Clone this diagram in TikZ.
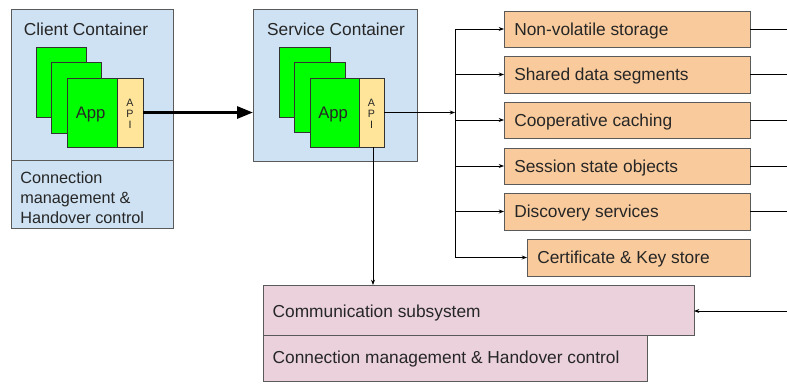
\documentclass[tikz,border=0pt]{standalone}
\usepackage{fontspec}
\setmainfont{Liberation Sans}
\usetikzlibrary{fit,arrows.meta}
\definecolor{contblue}{HTML}{CFE2F3}
\definecolor{appgreen}{HTML}{00FF00}
\definecolor{apiyellow}{HTML}{FFE599}
\definecolor{storeorange}{HTML}{F9CB9C}
\definecolor{commpink}{HTML}{EAD1DC}
\definecolor{edge}{HTML}{5A5A5A}
\tikzset{
  frame/.style={draw=edge, line width=0.75pt, inner sep=0pt, outer sep=0pt},
  container/.style={frame, fill=contblue},
  appbox/.style={frame, draw=black!80, fill=appgreen},
  apibox/.style={frame, draw=black!80, fill=apiyellow},
  storebox/.style={frame, fill=storeorange},
  commbox/.style={frame, fill=commpink},
  lbl/.style={font=\fontsize{13}{15}\selectfont, inner sep=0pt, text=black!85},
  applbl/.style={font=\fontsize{12.5}{15}\selectfont, inner sep=0pt, text=black!85},
  apilbl/.style={font=\fontsize{8}{8.3}\selectfont, align=center, inner sep=0pt, text=black!85},
  link/.style={draw=black, line width=0.6pt, -{Stealth[length=4pt,width=3pt]}},
  wire/.style={draw=black, line width=0.6pt},
  bigarrow/.style={draw=black, line width=2.2pt, -{Triangle[length=12pt,width=9pt]}}
}
\begin{document}
\begin{tikzpicture}[x=0.75pt, y=-0.75pt]
\useasboundingbox (0,0) rectangle (787,383);

% Client container
\node[container, fit={(11,9)(173,228)}] (client) {};
\draw[draw=edge, line width=0.75pt] (11,160) -- (173,160);
\node[lbl, anchor=base] (clienttitle) at (86,35) {Client Container};
\node[lbl, anchor=north west, align=left, font=\fontsize{12.2}{15}\selectfont] (clientctl) at (20,171)
  {Connection\\management \&\\Handover control};
\node[appbox, fit={(36,47)(86,117)}] (capp1) {};
\node[appbox, fit={(51,62)(101,133)}] (capp2) {};
\node[appbox, fit={(67,78)(117,147)}] (capp3) {};
\node[applbl] (capptext) at ([xshift=-1pt,yshift=-1.5pt]capp3.center) {App};
\node[apibox, fit={(117,78)(143,147)}] (capi) {};
\node[apilbl] (capitext) at ([yshift=-1pt]capi.center) {A\\P\\I};

% Service container
\node[container, fit={(253,9)(417,161)}] (service) {};
\node[lbl, anchor=base] (servicetitle) at (336,35) {Service Container};
\node[appbox, fit={(279,47)(330,117)}] (sapp1) {};
\node[appbox, fit={(294,62)(345,132)}] (sapp2) {};
\node[appbox, fit={(310,78)(359,147)}] (sapp3) {};
\node[applbl] (sapptext) at ([xshift=-1pt,yshift=-1.5pt]sapp3.center) {App};
\node[apibox, fit={(359,78)(384,147)}] (sapi) {};
\node[apilbl] (sapitext) at ([yshift=-1pt]sapi.center) {A\\P\\I};

\draw[bigarrow] (capi.east) -- (capi.east -| service.west);

% Storage services
\node[storebox, fit={(504,11)(750,47)}] (nvs) {};
\node[storebox, fit={(504,56)(750,93)}] (sds) {};
\node[storebox, fit={(504,102)(750,138)}] (coop) {};
\node[storebox, fit={(504,148)(750,184)}] (sess) {};
\node[storebox, fit={(504,193)(750,230)}] (disc) {};
\node[storebox, fit={(527,239)(750,276)}] (cert) {};
\node[lbl, anchor=west] (nvst) at ([xshift=7.5pt,yshift=-1.2pt]nvs.west) {Non-volatile storage};
\node[lbl, anchor=west] (sdst) at ([xshift=7.5pt,yshift=-1.2pt]sds.west) {Shared data segments};
\node[lbl, anchor=west] (coopt) at ([xshift=7.5pt,yshift=-1.2pt]coop.west) {Cooperative caching};
\node[lbl, anchor=west] (sesst) at ([xshift=7.5pt,yshift=-1.2pt]sess.west) {Session state objects};
\node[lbl, anchor=west] (disct) at ([xshift=7.5pt,yshift=-1.2pt]disc.west) {Discovery services};
\node[lbl, anchor=west] (certt) at ([xshift=7.5pt,yshift=-1.2pt]cert.west) {Certificate \& Key store};

% Communication stack
\node[commbox, fit={(263,285)(694,335)}] (comm) {};
\node[commbox, fit={(263,335)(647,381)}] (connctl) {};
\node[lbl, anchor=west] (commt) at ([xshift=7pt,yshift=-2pt]comm.west) {Communication subsystem};
\node[lbl, anchor=west] (connctlt) at ([xshift=7pt,yshift=-1pt]connctl.west) {Connection management \& Handover control};

% Distribution bus
\coordinate (bustop) at (455,0 |- nvs.west);
\coordinate (busbot) at (455,0 |- cert.west);
\coordinate (busin) at (455,0 |- sapi.east);
\draw[wire] (bustop) -- (busbot);
\draw[link] (sapi.east) -- (busin);
\foreach \b in {nvs,sds,coop,sess,disc,cert}
  \draw[link] (bustop |- \b.west) -- (\b.west);

% Outgoing lines on the right
\foreach \b in {nvs,sds,coop,sess,disc}
  \draw[wire] (\b.east) -- (787,0 |- \b.east);
\coordinate (rightin) at (787,311);
\draw[link] (rightin) -- (rightin -| comm.east);

% API down to communication subsystem
\coordinate (apidown) at (373,147);
\draw[link] (apidown) -- (apidown |- comm.north);
\end{tikzpicture}
\end{document}
